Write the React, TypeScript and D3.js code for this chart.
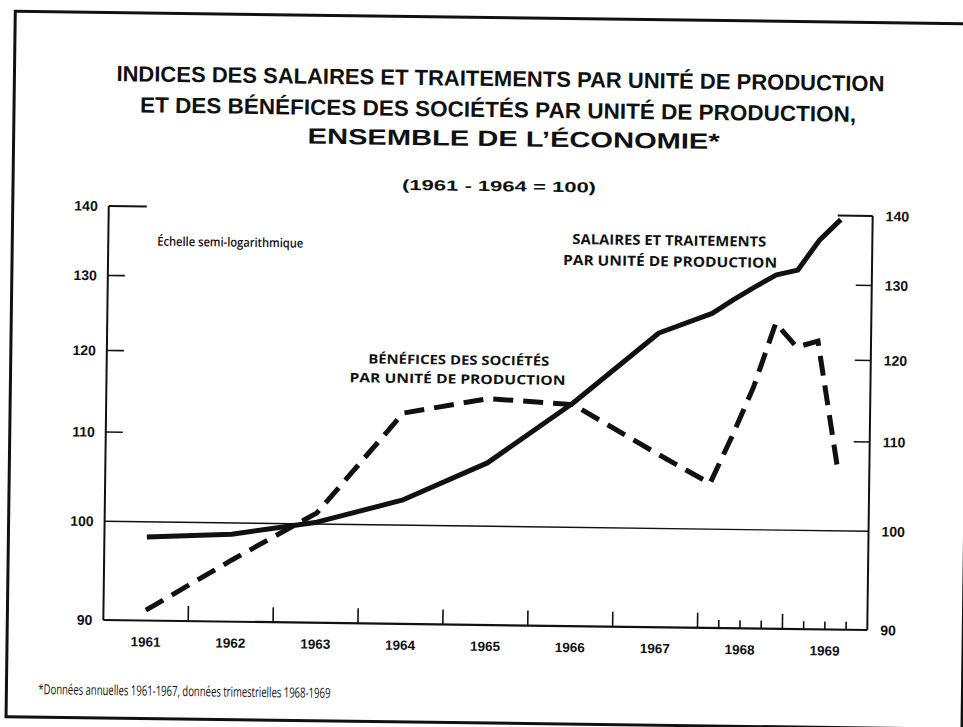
import React from 'react';
import * as d3 from 'd3';

// ---- Data ----
const yearLabels = ['1961', '1962', '1963', '1964', '1965', '1966', '1967', '1968', '1969'];
const annualYears = [1961, 1962, 1963, 1964, 1965, 1966, 1967];
const quarterYears = [1968, 1968, 1968, 1968, 1969, 1969, 1969];
const quarterNums = [1, 2, 3, 4, 1, 2, 3];

// Salaires et traitements par unité de production
const salairesAnnual = [98.4, 98.8, 100.2, 102.7, 107.0, 114.2, 123.2];
const salairesQuarterly = [125.9, 127.8, 129.6, 131.3, 132.0, 136.3, 139.4];
// Bénéfices des sociétés par unité de production
const beneficesAnnual = [91.0, 96.1, 101.2, 112.7, 114.6, 114.0, 108.3];
const beneficesQuarterly = [105.0, 110.4, 116.5, 124.7, 121.6, 122.4, 106.9];

const yTicks = [90, 100, 110, 120, 130, 140];
const minorYTicks = [110, 120, 130];

const titleLines = [
  'INDICES DES SALAIRES ET TRAITEMENTS PAR UNITÉ DE PRODUCTION',
  'ET DES BÉNÉFICES DES SOCIÉTÉS PAR UNITÉ DE PRODUCTION,',
  'ENSEMBLE DE L’ÉCONOMIE*',
];
const subtitle = '(1961 - 1964 = 100)';
const scaleNote = 'Échelle semi-logarithmique';
const salairesLabel = ['SALAIRES ET TRAITEMENTS', 'PAR UNITÉ DE PRODUCTION'];
const beneficesLabel = ['BÉNÉFICES DES SOCIÉTÉS', 'PAR UNITÉ DE PRODUCTION'];
const footnote = '*Données annuelles 1961-1967, données trimestrielles 1968-1969';

// ---- Layout ----
const W = 963;
const H = 727;
const PL = 106, PR = 870, PT = 211, PB = 625;

const x = d3.scaleLinear().domain([1961, 1970]).range([PL, PR]);
const y = d3.scaleLog().domain([90, 140]).range([PB, PT]);

const times = [
  ...annualYears.map((yr) => yr + 0.5),
  ...quarterYears.map((yr, i) => yr + (quarterNums[i] - 0.5) / 4),
];
const salaires = [...salairesAnnual, ...salairesQuarterly];
const benefices = [...beneficesAnnual, ...beneficesQuarterly];

const line = d3
  .line<[number, number]>()
  .x((d) => x(d[0]))
  .y((d) => y(d[1]))
  .curve(d3.curveLinear);

const salPath = line(times.map((t, i) => [t, salaires[i]]) as [number, number][]) || '';
const benPath = line(times.map((t, i) => [t, benefices[i]]) as [number, number][]) || '';

const majorX = d3.range(1962, 1970);
const minorX = [1968.25, 1968.5, 1968.75, 1969.25, 1969.5, 1969.75];

const titleFont = "'Liberation Sans', Arial, sans-serif";
const labelFont = "'Open Sans', 'DejaVu Sans', sans-serif";
const numFont = "'Liberation Sans', Arial, sans-serif";

export default function App() {
  return (
    <svg
      width={W}
      height={H}
      style={{ position: 'absolute', left: 0, top: 0, background: '#fff' }}
    >
      <rect x={0} y={0} width={W} height={H} fill="#fff" />
      <g transform="rotate(0.75 488 418)">
        {/* frame */}
        <rect x={10} y={17.5} width={956} height={705.5} fill="none" stroke="#111" strokeWidth={3} />

        {/* title */}
        <g fontFamily={titleFont} fontWeight={700} fill="#111" textAnchor="middle">
          <text x={496} y={86} fontSize={22} textLength={768} lengthAdjust="spacingAndGlyphs">
            {titleLines[0]}
          </text>
          <text x={494} y={117} fontSize={22} textLength={716} lengthAdjust="spacingAndGlyphs">
            {titleLines[1]}
          </text>
          <text x={510} y={146} fontSize={22} textLength={412} lengthAdjust="spacingAndGlyphs">
            {titleLines[2]}
          </text>
          <text x={496} y={191} fontSize={14.5} textLength={194} lengthAdjust="spacingAndGlyphs">
            {subtitle}
          </text>
        </g>

        {/* axes */}
        <g stroke="#111" fill="none">
          <line x1={PL} y1={PT} x2={PL} y2={PB} strokeWidth={2} />
          <line x1={PR} y1={PT} x2={PR} y2={PB} strokeWidth={2} />
          <line x1={PL} y1={PB} x2={PR} y2={PB} strokeWidth={2.2} />
          <line x1={PL} y1={y(140)} x2={PL + 38} y2={y(140)} strokeWidth={2} />
          <line x1={PR - 35} y1={y(140)} x2={PR} y2={y(140)} strokeWidth={2} />
          <line x1={PL} y1={y(100)} x2={PR} y2={y(100)} strokeWidth={1.4} />
          {minorYTicks.map((v) => (
            <g key={v}>
              <line x1={PL} y1={y(v)} x2={PL + 17} y2={y(v)} strokeWidth={1.6} />
              <line x1={PR - 16} y1={y(v)} x2={PR} y2={y(v)} strokeWidth={1.6} />
            </g>
          ))}
          {majorX.map((t) => (
            <line key={t} x1={x(t)} y1={PB} x2={x(t)} y2={PB - 15} strokeWidth={1.6} />
          ))}
          {minorX.map((t) => (
            <line key={t} x1={x(t)} y1={PB} x2={x(t)} y2={PB - 8} strokeWidth={1.6} />
          ))}
        </g>

        {/* y labels */}
        <g fontFamily={numFont} fontWeight={700} fontSize={14} fill="#111">
          {yTicks.map((v) => (
            <g key={v}>
              <text x={PL - 11} y={y(v) + 5} textAnchor="end">{v}</text>
              <text x={PR + 13} y={y(v) + 5} textAnchor="start">{v}</text>
            </g>
          ))}
        </g>

        {/* x labels */}
        <g fontFamily={numFont} fontWeight={700} fontSize={13.5} fill="#111" textAnchor="middle">
          {yearLabels.map((lab, i) => (
            <text key={lab} x={x(1961 + i + 0.5)} y={651}>{lab}</text>
          ))}
        </g>

        {/* series */}
        <path d={salPath} fill="none" stroke="#111" strokeWidth={5} strokeLinejoin="round" />
        <path d={benPath} fill="none" stroke="#111" strokeWidth={5} strokeDasharray="20 10" strokeLinejoin="miter" />

        {/* annotations */}
        <text x={155} y={250} fontFamily={labelFont} fontWeight={600} fontSize={12.5} fill="#111" textLength={146} lengthAdjust="spacingAndGlyphs">
          {scaleNote}
        </text>
        <g fontFamily={labelFont} fontWeight={700} fill="#111" textAnchor="middle">
          <text x={667} y={243} fontSize={14} textLength={194} lengthAdjust="spacingAndGlyphs">{salairesLabel[0]}</text>
          <text x={668} y={264} fontSize={14} textLength={214} lengthAdjust="spacingAndGlyphs">{salairesLabel[1]}</text>
          <text x={458} y={365} fontSize={13} textLength={181} lengthAdjust="spacingAndGlyphs">{beneficesLabel[0]}</text>
          <text x={457} y={384} fontSize={13} textLength={216} lengthAdjust="spacingAndGlyphs">{beneficesLabel[1]}</text>
        </g>

        {/* footnote */}
        <text x={42} y={700} fontFamily={labelFont} fontSize={14} fill="#111" textLength={292} lengthAdjust="spacingAndGlyphs">
          {footnote}
        </text>
      </g>
    </svg>
  );
}
